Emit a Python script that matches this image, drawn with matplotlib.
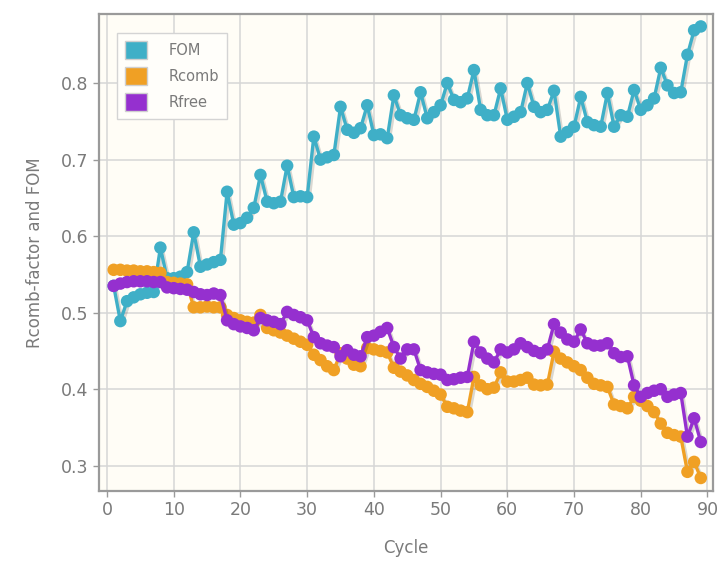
import matplotlib
matplotlib.use('Agg')

import numpy as np
import matplotlib.pyplot as plt
import matplotlib.patheffects as pe
from matplotlib.patches import Patch

# values, cycles 1..89
cycles = np.arange(1, 90)

fom = [0.535, 0.489, 0.515, 0.520, 0.524, 0.526, 0.527, 0.585, 0.545, 0.545,
       0.547, 0.553, 0.605, 0.560, 0.563, 0.566, 0.569, 0.658, 0.615, 0.617,
       0.624, 0.637, 0.680, 0.645, 0.643, 0.645, 0.692, 0.651, 0.652, 0.651,
       0.730, 0.700, 0.703, 0.706, 0.769, 0.739, 0.735, 0.741, 0.771, 0.732,
       0.733, 0.728, 0.784, 0.758, 0.754, 0.752, 0.788, 0.754, 0.762, 0.771,
       0.800, 0.778, 0.775, 0.780, 0.817, 0.765, 0.758, 0.758, 0.793, 0.752,
       0.756, 0.762, 0.800, 0.769, 0.762, 0.765, 0.790, 0.730, 0.736, 0.743,
       0.782, 0.749, 0.745, 0.743, 0.787, 0.743, 0.758, 0.756, 0.791, 0.765,
       0.771, 0.780, 0.820, 0.797, 0.787, 0.788, 0.837, 0.869, 0.874]

rcomb = [0.556, 0.556, 0.555, 0.555, 0.554, 0.554, 0.553, 0.552, 0.540, 0.539,
         0.538, 0.537, 0.507, 0.507, 0.508, 0.507, 0.507, 0.497, 0.493, 0.490,
         0.488, 0.487, 0.497, 0.480, 0.477, 0.474, 0.470, 0.466, 0.462, 0.458,
         0.445, 0.438, 0.430, 0.425, 0.447, 0.440, 0.432, 0.430, 0.454, 0.452,
         0.450, 0.448, 0.428, 0.423, 0.418, 0.412, 0.407, 0.403, 0.398, 0.393,
         0.377, 0.375, 0.372, 0.370, 0.416, 0.405, 0.400, 0.402, 0.422, 0.410,
         0.410, 0.412, 0.415, 0.406, 0.405, 0.406, 0.449, 0.440, 0.435, 0.430,
         0.425, 0.415, 0.407, 0.405, 0.403, 0.380, 0.378, 0.375, 0.390, 0.385,
         0.378, 0.370, 0.355, 0.343, 0.340, 0.338, 0.292, 0.305, 0.284]

rfree = [0.535, 0.538, 0.540, 0.541, 0.541, 0.541, 0.540, 0.540, 0.533, 0.532,
         0.531, 0.530, 0.527, 0.524, 0.523, 0.525, 0.523, 0.490, 0.485, 0.482,
         0.480, 0.477, 0.493, 0.490, 0.488, 0.485, 0.501, 0.497, 0.494, 0.490,
         0.468, 0.460, 0.457, 0.455, 0.443, 0.451, 0.445, 0.443, 0.468, 0.470,
         0.475, 0.480, 0.455, 0.440, 0.452, 0.452, 0.425, 0.422, 0.420, 0.419,
         0.412, 0.413, 0.415, 0.416, 0.462, 0.448, 0.440, 0.435, 0.452, 0.448,
         0.452, 0.460, 0.455, 0.450, 0.447, 0.452, 0.485, 0.474, 0.465, 0.462,
         0.478, 0.460, 0.457, 0.457, 0.460, 0.447, 0.442, 0.443, 0.405, 0.390,
         0.395, 0.398, 0.400, 0.390, 0.393, 0.395, 0.338, 0.362, 0.331]

series = [("FOM", fom, "#3fafc7"),
          ("Rcomb", rcomb, "#f0a024"),
          ("Rfree", rfree, "#9530cf")]

text_grey = "#7a7a7a"

fig = plt.figure(figsize=(7.2, 5.68), dpi=100)
ax = fig.add_axes([0.1375, 0.1356, 0.8525, 0.8394])
ax.set_facecolor("#fffdf6")

shadow = [pe.SimpleLineShadow(offset=(1.5, -1.5), shadow_color="k", alpha=0.15), pe.Normal()]
for name, vals, col in series:
    ax.plot(cycles, vals, color=col, lw=2.4, marker="o", ms=9,
            markeredgewidth=0, path_effects=shadow, zorder=3)

ax.set_xlim(-1.2, 90.8)
ax.set_ylim(0.267, 0.89)
ax.set_xticks(np.arange(0, 91, 10))
ax.set_yticks([0.3, 0.4, 0.5, 0.6, 0.7, 0.8])
ax.set_yticklabels(["0.3", "0.4", "0.5", "0.6", "0.7", "0.8"])
ax.grid(True, color="#d6d6d6", lw=1.1, zorder=0)
ax.set_axisbelow(True)

for s in ax.spines.values():
    s.set_color("#9a9a9a")
    s.set_linewidth(1.6)
ax.tick_params(colors="#9a9a9a", labelcolor=text_grey, labelsize=12.5, length=4, width=1)

ax.set_xlabel("Cycle", color=text_grey, fontsize=12, labelpad=14)
ax.set_ylabel("Rcomb-factor and FOM", color=text_grey, fontsize=12, labelpad=12)

handles = [Patch(facecolor=c, edgecolor="#cfcfcf", lw=1, label=n) for n, _, c in series]
leg = ax.legend(handles=handles, loc="upper left", bbox_to_anchor=(0.017, 0.975),
                fontsize=10.5, frameon=True, fancybox=False, handlelength=1.5,
                handleheight=1.5, labelspacing=0.55, borderpad=0.55, handletextpad=1.5,
                labelcolor=text_grey)
leg.get_frame().set_edgecolor("#d4d4d4")
leg.get_frame().set_facecolor("#fffefa")
leg.get_frame().set_alpha(1)
leg.set_zorder(5)

fig.savefig("out.png", dpi=100)
